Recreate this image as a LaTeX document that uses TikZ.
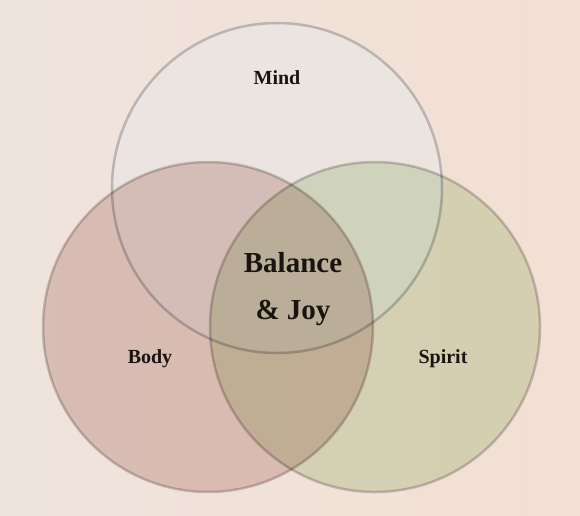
\documentclass[tikz,border=0pt]{standalone}
\usepackage{fontspec}
\setmainfont{Liberation Serif}
\definecolor{bgleft}{RGB}{238,228,221}
\definecolor{bgright}{RGB}{243,223,211}
\definecolor{mindfill}{RGB}{234,229,226}
\definecolor{bodyfill}{RGB}{231,212,209}
\definecolor{spiritfill}{RGB}{225,236,214}
\definecolor{rimgray}{RGB}{208,203,203}
\definecolor{mindrim}{RGB}{186,180,178}
\definecolor{inkdark}{RGB}{26,20,16}
\begin{document}
\begin{tikzpicture}[x=1pt,y=-1pt,
    ring/.style={circle,draw=rimgray,line width=2.5pt,minimum size=330pt,inner sep=0pt,
        blend mode=multiply},
    word/.style={text=inkdark,font=\bfseries\fontsize{20}{24}\selectfont}]
    \shade[left color=bgleft,right color=bgright] (0,0) rectangle (580,515);
    \useasboundingbox (0,0) rectangle (580,515);
    % the three circles, Mind lowest
    \node[ring,fill=mindfill,fill opacity=0.8,blend mode=normal,draw=mindrim] (mind) at (277,188) {};
    \foreach \n/\x/\y/\c in {body/208/327/bodyfill,spirit/375/327/spiritfill}
        \node[ring,fill=\c] (\n) at (\x,\y) {};
    % labels
    \node[word] (mindtext) at (277,78) {Mind};
    \node[word] (bodytext) at (150,359) {Body};
    \node[word] (spirittext) at (443,359) {Spirit};
    \node[word,font=\bfseries\fontsize{29}{47}\selectfont,align=center] (centertext) at (293,289) {Balance\\\& Joy};
\end{tikzpicture}
\end{document}
